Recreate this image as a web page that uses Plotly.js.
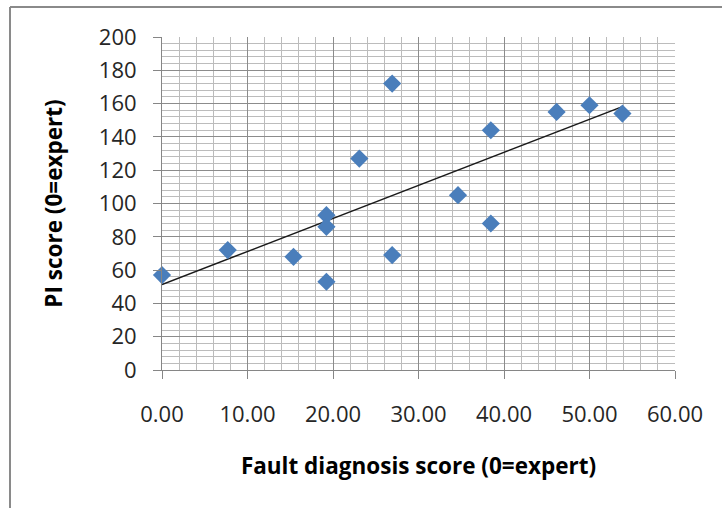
<!DOCTYPE html>
<html>
<head>
<meta charset="utf-8">
<script src="https://cdn.plot.ly/plotly-3.0.1.min.js"></script>
<style>
  html, body { margin: 0; padding: 0; background: #ffffff; }
  #chart { width: 722px; height: 508px; }
</style>
</head>
<body>
<div id="chart"></div>
<script>
// Data
const faultScore = [0.00, 7.69, 15.38, 19.23, 19.23, 19.23, 23.08, 26.92, 26.92, 34.62, 38.46, 38.46, 46.15, 50.00, 53.85];
const piScore    = [57, 72, 68, 93, 86, 53, 127, 172, 69, 105, 144, 88, 155, 159, 154];
const xTickVals  = [0, 10, 20, 30, 40, 50, 60];
const yTickVals  = [0, 20, 40, 60, 80, 100, 120, 140, 160, 180, 200];
const xTitle = 'Fault diagnosis score (0=expert)';
const yTitle = 'PI score (0=expert)';

// Linear least-squares trend line (as Excel's linear trendline)
const n = faultScore.length;
const mx = faultScore.reduce((a, b) => a + b, 0) / n;
const my = piScore.reduce((a, b) => a + b, 0) / n;
let sxy = 0, sxx = 0;
for (let i = 0; i < n; i++) {
  sxy += (faultScore[i] - mx) * (piScore[i] - my);
  sxx += (faultScore[i] - mx) * (faultScore[i] - mx);
}
const slope = sxy / sxx;
const intercept = my - slope * mx;
const xMin = Math.min(...faultScore), xMax = Math.max(...faultScore);
const trendX = [xMin, xMax];
const trendY = trendX.map(v => intercept + slope * v);

const FONT = '"Open Sans", "Liberation Sans", sans-serif';

const traces = [
  {
    x: trendX, y: trendY, type: 'scatter', mode: 'lines',
    line: { color: '#1a1a1a', width: 1.5 },
    hoverinfo: 'skip', showlegend: false, cliponaxis: false
  },
  {
    x: faultScore, y: piScore, type: 'scatter', mode: 'markers',
    marker: { symbol: 'diamond', size: 14, color: '#4a7ebb', line: { width: 0 } },
    showlegend: false, cliponaxis: false
  }
];

const axisCommon = {
  showline: true, linecolor: '#868686', linewidth: 1,
  ticks: 'outside', ticklen: 8, tickcolor: '#868686', tickwidth: 1,
  showgrid: true, gridcolor: '#8c8c8c', gridwidth: 1,
  zeroline: false,
  tickfont: { family: FONT, size: 22, color: '#262626' },
  fixedrange: true
};

const layout = {
  width: 722, height: 508,
  margin: { l: 162, r: 47, t: 37, b: 138, pad: 0 },
  paper_bgcolor: '#ffffff', plot_bgcolor: '#ffffff',
  showlegend: false,
  xaxis: Object.assign({}, axisCommon, {
    range: [0, 60], tickmode: 'array', tickvals: xTickVals,
    ticktext: xTickVals.map(v => v.toFixed(2)),
    ticklabelstandoff: 17,
    minor: { dtick: 2, showgrid: true, gridcolor: '#bcbcbc', gridwidth: 1, ticks: '' },
    title: { text: xTitle, font: { family: FONT, size: 22.5, color: '#000000', weight: 'bold' }, standoff: 30 }
  }),
  yaxis: Object.assign({}, axisCommon, {
    range: [0, 200], tickmode: 'array', tickvals: yTickVals,
    ticklabelstandoff: 12,
    minor: { dtick: 4, showgrid: true, gridcolor: '#bcbcbc', gridwidth: 1, ticks: '' },
    title: { text: yTitle, font: { family: FONT, size: 22.5, color: '#000000', weight: 'bold' }, standoff: 29 }
  }),
  shapes: [
    { type: 'line', xref: 'paper', yref: 'paper', x0: -0.2963, x1: -0.2963, y0: -0.5, y1: 1.0901,
      line: { color: '#8a8a8a', width: 2 } },
    { type: 'line', xref: 'paper', yref: 'paper', x0: -0.2963, x1: 1.2, y0: 1.0901, y1: 1.0901,
      line: { color: '#8a8a8a', width: 2 } }
  ]
};

Plotly.newPlot('chart', traces, layout, { displayModeBar: false, staticPlot: true });
</script>
</body>
</html>
